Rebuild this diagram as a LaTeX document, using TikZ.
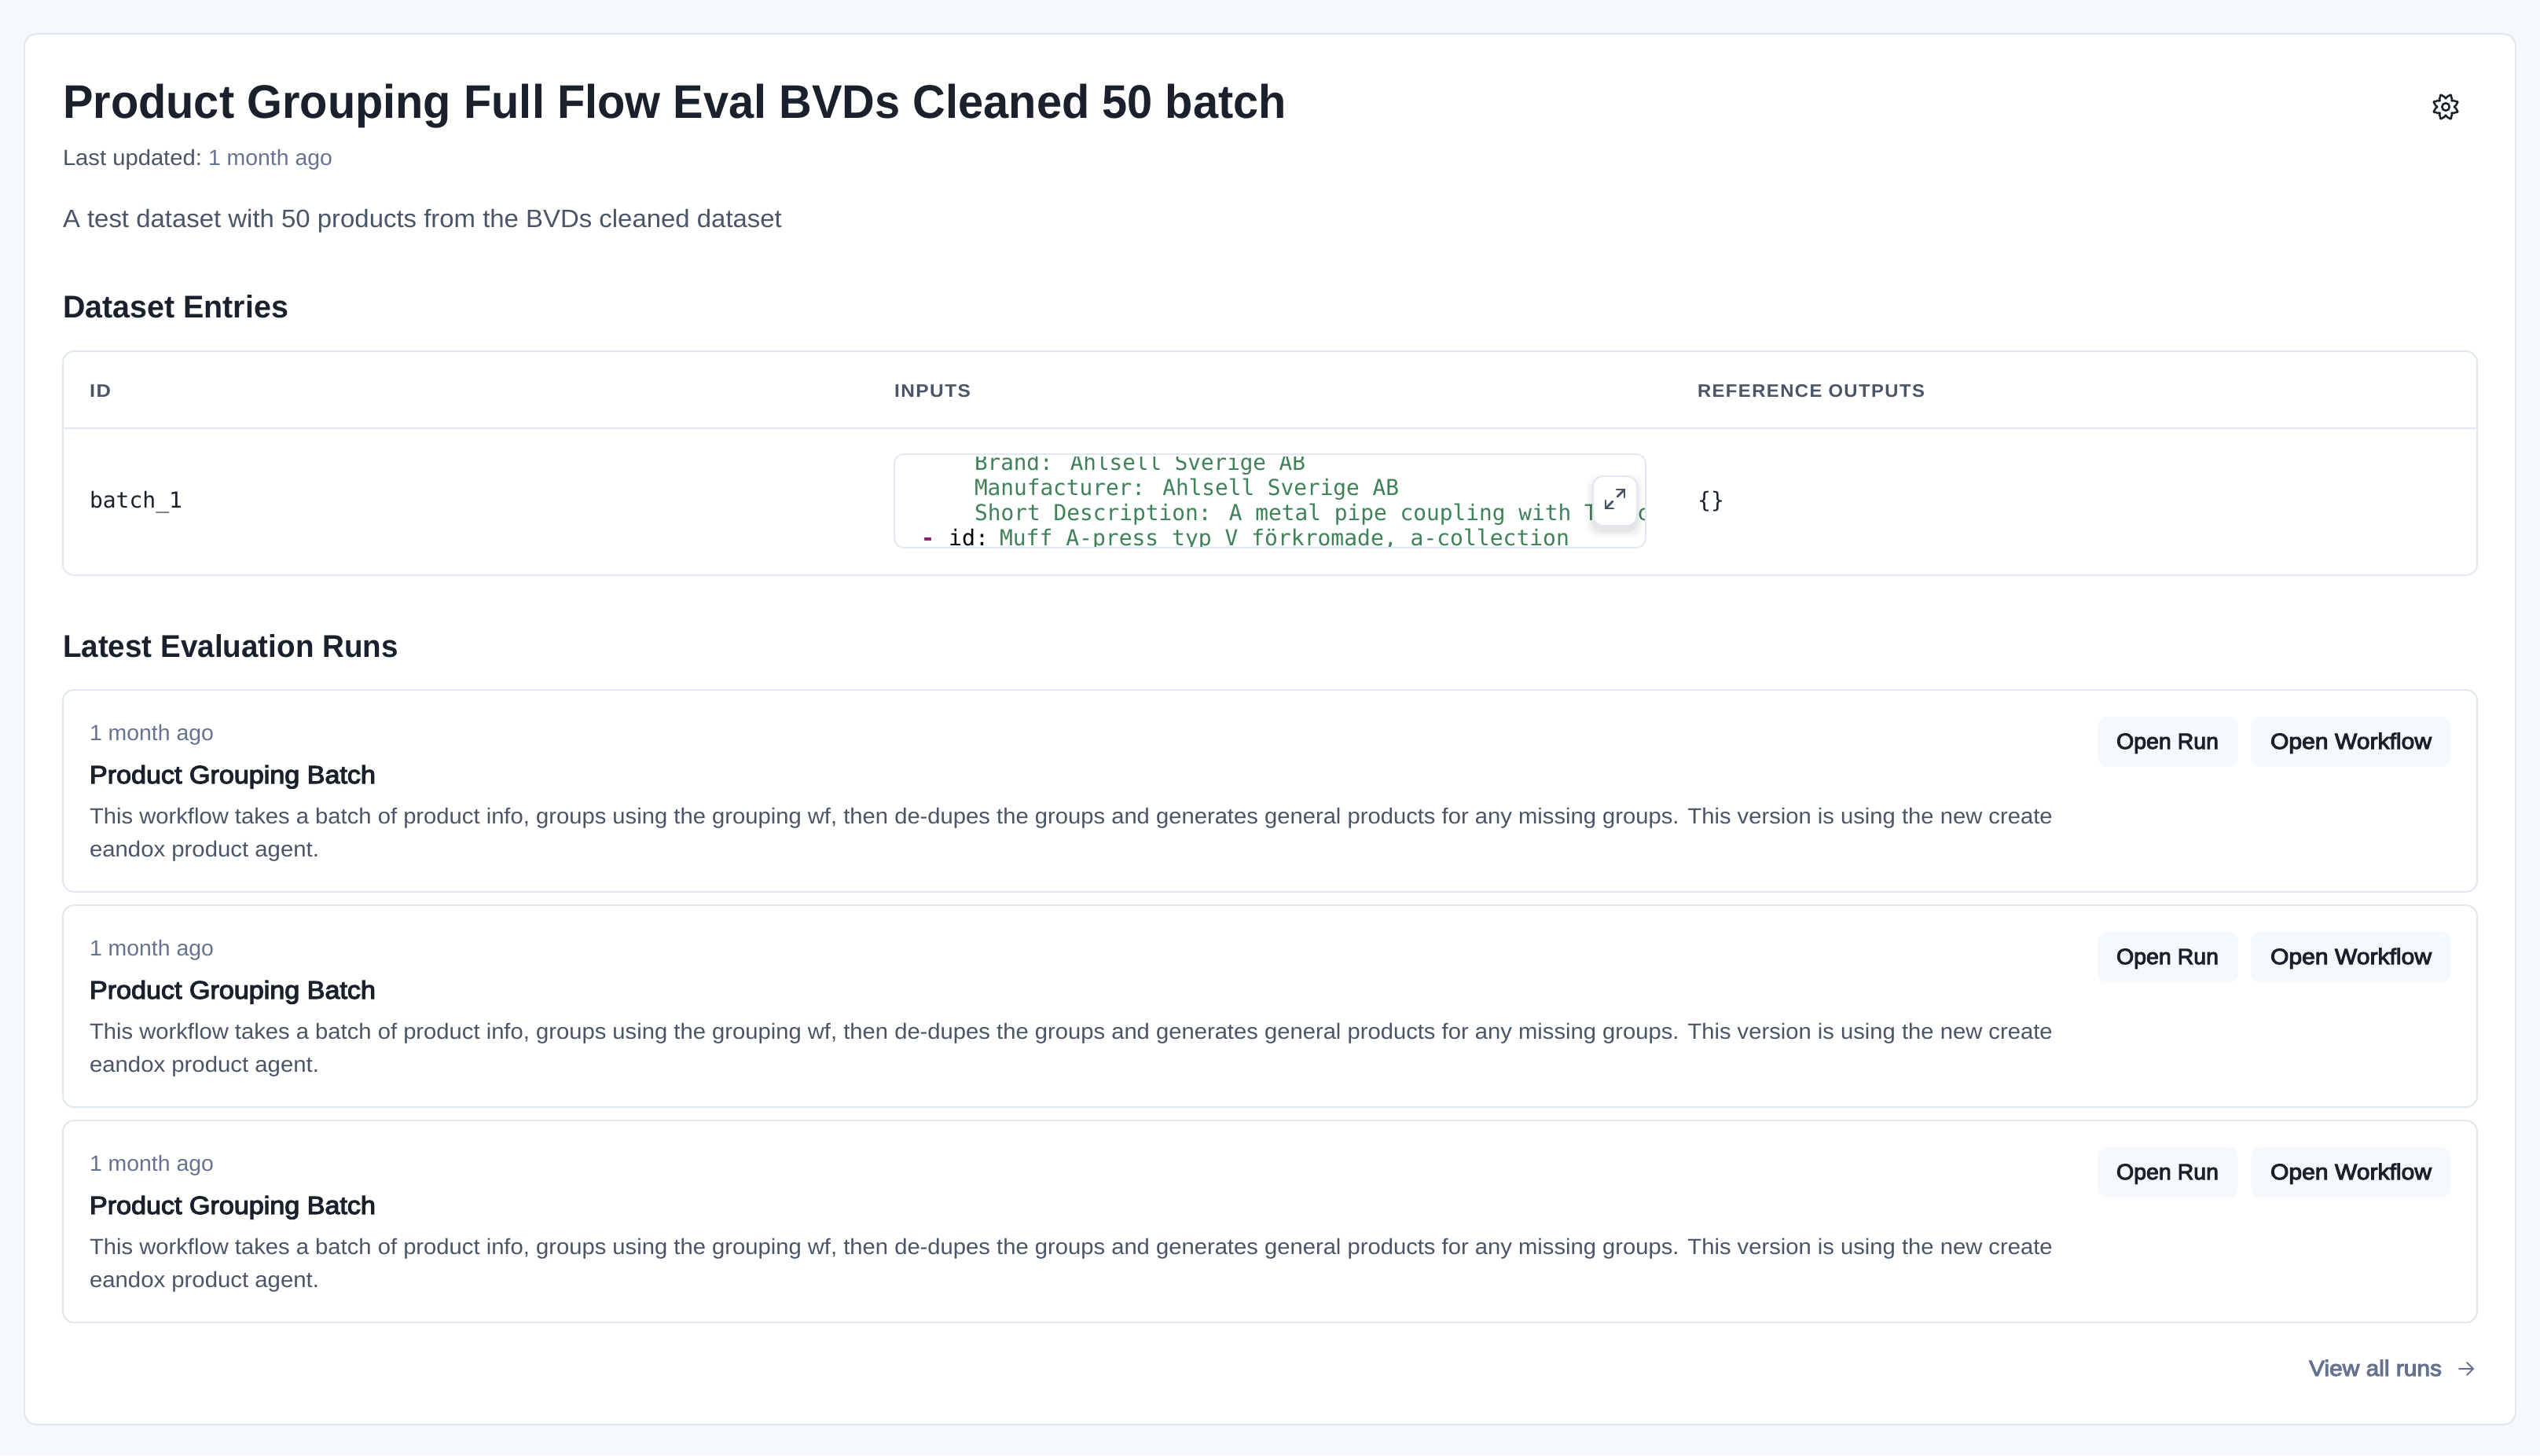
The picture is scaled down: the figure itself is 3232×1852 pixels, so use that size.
\documentclass[tikz,border=0pt]{standalone}
\usepackage{graphicx}
\usepackage{fontspec}
\setmainfont{Liberation Sans}
\newfontfamily\medf[FakeBold=3.5]{Liberation Sans}
\newfontfamily\hdrf[LetterSpace=6,BoldFont={Liberation Sans Bold}]{Liberation Sans}
\newfontfamily\codef{DejaVu Sans Mono}
\definecolor{pagebg}{HTML}{F5F8FC}
\definecolor{edge}{HTML}{E2E8F0}
\definecolor{ink}{HTML}{1A202C}
\definecolor{slate}{HTML}{4A5568}
\definecolor{muted}{HTML}{667390}
\definecolor{codegreen}{HTML}{3E8258}
\definecolor{codedash}{HTML}{8C1C6C}
\newsavebox\fitbox
\newcommand\fitw[2]{\sbox\fitbox{#2}\pgfmathsetmacro\fitr{#1*0.5/\wd\fitbox}\scalebox{\fitr}[1]{\usebox\fitbox}}
\newcommand\fs[1]{\fontsize{#1}{#1}\selectfont}
\tikzset{
  x=0.5pt,y=-0.5pt,
  txt/.style={anchor=base west,inner sep=0pt,outer sep=0pt},
  card/.style={draw=edge,fill=white,line width=1pt,rounded corners=7pt},
  btn/.style={fill=pagebg,rounded corners=6pt},
  icon/.style={line width=1.4pt,line cap=round,line join=round},
}
% #1 name, #2 coordinate, #3 colour, #4 target width in px, #5 font, #6 text
\newcommand\lab[6]{\node[txt,text=#3] (#1) at (#2) {\fitw{#4}{#5#6}};}
\newcommand\runcard[2]{% #1 id, #2 top y
  \path[card] (80,#2) rectangle (3152,#2+257);
  \lab{when#1}{114,#2+64}{muted}{158}{\fs{14}}{1 month ago}
  \lab{name#1}{114,#2+119}{ink}{364}{\fs{16}\medf}{Product Grouping Batch}
  \lab{desca#1}{114,#2+170}{slate}{2498}{\fs{14}}{This workflow takes a batch of product info, groups using the grouping wf, then de-dupes the groups and generates general products for any missing groups. This version is using the new create}
  \lab{descb#1}{114,#2+212}{slate}{292}{\fs{14}}{eandox product agent.}
  \path[btn] (2669,#2+34) rectangle (2848,#2+98);
  \path[btn] (2864,#2+34) rectangle (3118,#2+98);
  \lab{run#1}{2693,#2+75}{ink}{130}{\fs{14}\medf}{Open Run}
  \lab{wf#1}{2889,#2+75}{ink}{205}{\fs{14}\medf}{Open Workflow}
}
\begin{document}
\begin{tikzpicture}
\useasboundingbox (0,0) rectangle (3232,1852);
\fill[pagebg] (0,0) rectangle (3232,1852);
\path[card,rounded corners=8pt] (31,43) rectangle (3201,1813);

% header
\lab{title}{80,150}{ink}{1557}{\fs{30}\bfseries}{Product Grouping Full Flow Eval BVDs Cleaned 50 batch}
\lab{updated}{80,210}{slate}{177}{\fs{14}}{Last updated:}
\lab{updatedago}{265,210}{muted}{158}{\fs{14}}{1 month ago}
\lab{descr}{80,289}{slate}{915}{\fs{16}}{A test dataset with 50 products from the BVDs cleaned dataset}

% gear icon
\draw[ink,line width=1.25pt,line join=round,smooth,domain=0:360,samples=145]
  plot ({3112+(13.6+2.4*cos(8*\x+22.5*8)+0.5*cos(24*\x+22.5*24))*cos(\x)},{136+(13.6+2.4*cos(8*\x+22.5*8)+0.5*cos(24*\x+22.5*24))*sin(\x)}) -- cycle;
\draw[ink,line width=1.25pt] (3112,136) circle (2.4pt);

% dataset table
\lab{entries}{80,404}{ink}{287}{\fs{20}\bfseries}{Dataset Entries}
\path[card] (80,447) rectangle (3152,732);
\draw[edge,line width=1pt] (81,545) -- (3151,545);
\lab{hid}{114,505}{slate}{27}{\fs{11.5}\hdrf\bfseries}{ID}
\lab{hin}{1138,505}{slate}{97}{\fs{11.5}\hdrf\bfseries}{INPUTS}
\lab{hout}{2160,505}{slate}{289}{\fs{11.5}\hdrf\bfseries}{REFERENCE OUTPUTS}
\lab{batch}{114,646}{ink}{118}{\fs{14}\codef}{batch\_1}
\lab{braces}{2160,646}{ink}{34}{\fs{14}\codef}{\{\}}

% code box
\path[card,rounded corners=6pt] (1138,578) rectangle (2094,697);
\begin{scope}
  \clip[rounded corners=5pt] (1140,581) rectangle (2092,695);
  \lab{c1}{1240,598}{codegreen}{421}{\fs{14}\codef}{Brand: Ahlsell Sverige AB}
  \lab{c2}{1240,630}{codegreen}{540}{\fs{14}\codef}{Manufacturer: Ahlsell Sverige AB}
  \lab{c3}{1240,662}{codegreen}{860}{\fs{14}\codef}{Short Description: A metal pipe coupling with T\ \ \ c}
  \lab{c4a}{1172,694}{codedash}{17}{\fs{14}\codef\bfseries}{-}
  \lab{c4b}{1207,694}{black}{51}{\fs{14}\codef}{id:}
  \lab{c4c}{1272,694}{codegreen}{725}{\fs{14}\codef}{Muff A-press typ V förkromade, a-collection}
\end{scope}

% expand button
\foreach \s/\o in {9/0.012,7/0.016,5/0.02,3/0.025,1/0.03}{
  \fill[black,opacity=\o,rounded corners=7pt] (2027-\s,606+7-\s) rectangle (2083+\s,669+7+\s);
}
\path[card,rounded corners=6.5pt] (2027,606) rectangle (2083,669);
\draw[slate,icon] (2043,647) -- (2052,638) (2058,632) -- (2067,623);
\draw[slate,icon] (2057,623) -- (2067,623) -- (2067,633);
\draw[slate,icon] (2043,637) -- (2043,647) -- (2053,647);

% runs
\lab{latest}{80,836}{ink}{427}{\fs{20}\bfseries}{Latest Evaluation Runs}
\runcard{a}{878}
\runcard{b}{1152}
\runcard{c}{1426}

% footer link
\lab{viewall}{2938,1751}{muted}{169}{\fs{14}\medf}{View all runs}
\draw[muted,icon,line width=1pt] (3129,1742) -- (3147,1742) (3139,1734) -- (3147,1742) -- (3139,1750);
\end{tikzpicture}
\end{document}
